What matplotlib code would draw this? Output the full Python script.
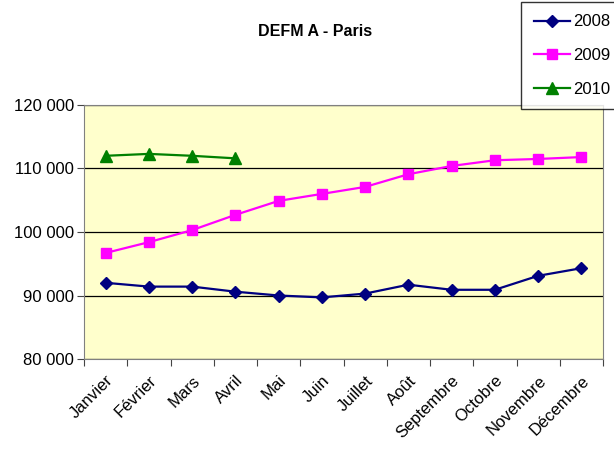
import matplotlib.pyplot as plt
from matplotlib.ticker import FuncFormatter, FixedLocator

plt.rcParams['font.family'] = ['Liberation Sans', 'DejaVu Sans']

mois = ["Janvier", "Février", "Mars", "Avril", "Mai", "Juin", "Juillet",
        "Août", "Septembre", "Octobre", "Novembre", "Décembre"]
defm_2008 = [92000, 91400, 91400, 90600, 90000, 89700, 90300, 91700,
             90900, 90900, 93100, 94300]
defm_2009 = [96700, 98400, 100300, 102700, 104900, 106000, 107100, 109100,
             110400, 111300, 111500, 111800]
defm_2010 = [112000, 112300, 112000, 111600]

fig = plt.figure(figsize=(6.14, 4.59), dpi=100)
ax = fig.add_axes([84 / 614, 1 - 359 / 459, 519 / 614, 254 / 459])
ax.set_facecolor("#FFFFCC")

x = list(range(len(mois)))
ax.plot(x, defm_2008, color="#000080", marker="D", markersize=6.5, lw=1.6, label="2008")
ax.plot(x, defm_2009, color="#FF00FF", marker="s", markersize=7.5, lw=1.6, label="2009")
ax.plot(x[:len(defm_2010)], defm_2010, color="#008000", marker="^", markersize=8, lw=1.6, label="2010")

ax.set_xlim(-0.5, 11.5)
ax.set_ylim(80000, 120000)
ax.set_yticks(range(80000, 120001, 10000))
ax.yaxis.set_major_formatter(FuncFormatter(lambda v, p: f"{int(v):,}".replace(",", " ")))
ax.yaxis.grid(True, color="black", lw=0.9)
ax.set_axisbelow(True)

ax.xaxis.set_major_locator(FixedLocator([i - 0.5 for i in range(13)]))
ax.set_xticklabels([])
ax.xaxis.set_minor_locator(FixedLocator(x))
ax.set_xticklabels(mois, minor=True, rotation=45, ha="right", rotation_mode="anchor", fontsize=12)
ax.tick_params(axis="x", which="minor", length=0, pad=10)
ax.tick_params(axis="x", which="major", length=5, color="#444444")
ax.tick_params(axis="y", length=5, color="#444444", labelsize=12, pad=2)
for s in ax.spines.values():
    s.set_color("#808080")

fig.text(315 / 614, 1 - 32 / 459, "DEFM A - Paris", ha="center", va="center",
         fontsize=11.5, fontweight="bold")

leg = fig.legend(loc="upper left", bbox_to_anchor=(521 / 614, 1 - 2 / 459),
                 fontsize=12, frameon=True, fancybox=False, edgecolor="black",
                 handlelength=2.2, labelspacing=1.12, borderpad=0.75, handletextpad=0.15,
                 borderaxespad=0)
leg.get_frame().set_linewidth(1.0)

plt.savefig("out.png", dpi=100)
